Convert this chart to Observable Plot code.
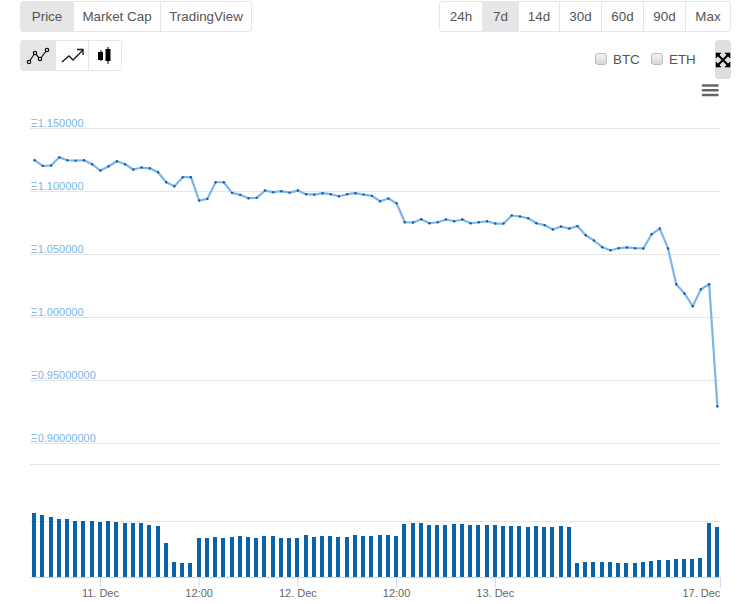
<!DOCTYPE html>
<html><head><meta charset="utf-8">
<script src="https://cdn.jsdelivr.net/npm/d3@7"></script>
<script src="https://cdn.jsdelivr.net/npm/@observablehq/plot@0.6"></script>
<style>
html,body{margin:0;padding:0;background:#fff;width:741px;height:604px;overflow:hidden;font-family:"Liberation Sans",sans-serif;}
#wrap{position:relative;width:741px;height:604px;overflow:hidden;}
.grp{position:absolute;display:flex;box-sizing:border-box;border:1px solid #e6e6e6;border-radius:3px;overflow:hidden;background:#fff;}
.grp div{box-sizing:border-box;border-left:1px solid #e6e6e6;display:flex;align-items:center;justify-content:center;color:#555;font-size:13.4px;height:100%;}
.grp div:first-child{border-left:none;}
.grp div.on{background:#e6e6e6;}
.abs{position:absolute;}
.lbl{position:absolute;font-size:13.4px;color:#555;line-height:16px;}
input.cb{appearance:none;-webkit-appearance:none;position:absolute;margin:0;width:12px;height:12px;box-sizing:border-box;border:1px solid #bbb;border-radius:3px;background:linear-gradient(#f4f4f4,#d8d8d8);}
#price,#volume{position:absolute;left:0;}
#price{top:100px;}#volume{top:460px;}
svg{display:block;}
</style></head><body>
<div id="wrap">
  <div class="grp" style="left:20px;top:1px;width:232px;height:31px;">
    <div class="on" style="width:52px">Price</div><div style="width:87px">Market Cap</div><div style="width:91px">TradingView</div>
  </div>
  <div class="grp" style="left:439px;top:1px;width:292px;height:31px;">
    <div style="width:42px">24h</div><div class="on" style="width:36px">7d</div><div style="width:41px">14d</div><div style="width:42px">30d</div><div style="width:42px">60d</div><div style="width:42px">90d</div><div style="width:45px">Max</div>
  </div>
  <div class="grp" style="left:20px;top:40px;width:102px;height:31px;">
    <div class="on" style="width:34px"><svg width="24" height="20" viewBox="0 0 24 20" fill="none" stroke="#111" stroke-width="1.2"><polyline points="3,16 9,7 14,13 21,4"/><circle cx="3" cy="16" r="1.7" fill="#e6e6e6"/><circle cx="9" cy="7" r="1.7" fill="#e6e6e6"/><circle cx="14" cy="13" r="1.7" fill="#e6e6e6"/><circle cx="21" cy="4" r="1.7" fill="#e6e6e6"/></svg></div>
    <div style="width:34px"><svg width="24" height="20" viewBox="0 0 24 20" fill="none" stroke="#111" stroke-width="1.3"><polyline points="2,16 9,10 13,14 23,4"/><polyline points="17,3.5 23,3.5 23,9"/></svg></div>
    <div style="width:33px"><svg width="20" height="20" viewBox="0 0 20 20" fill="#000" stroke="#000" stroke-width="1"><line x1="6" y1="4" x2="6" y2="15"/><rect x="3.5" y="6.5" width="4" height="7"/><line x1="13" y1="1" x2="13" y2="18"/><rect x="11" y="3.5" width="4" height="11"/></svg></div>
  </div>
  <input class="cb" type="checkbox" style="left:595px;top:53px"><span class="lbl" style="left:613px;top:52px">BTC</span>
  <input class="cb" type="checkbox" style="left:651px;top:53px"><span class="lbl" style="left:669px;top:52px">ETH</span>
  <div class="abs" style="left:715px;top:40px;width:16px;height:39px;background:#dedede;border-radius:4px;"></div>
  <svg class="abs" style="left:715px;top:52px" width="16" height="16" viewBox="0 0 16 16" stroke="#000" stroke-width="2" fill="#000"><line x1="3" y1="3" x2="13" y2="13"/><line x1="13" y1="3" x2="3" y2="13"/><path d="M1 1h5L1 6zM15 1h-5l5 5zM1 15h5L1 10zM15 15h-5l5-5z" stroke-width="0.6"/></svg>
  <svg class="abs" style="left:701px;top:83px" width="18" height="15" viewBox="0 0 18 15" stroke="#666" stroke-width="2.5" stroke-linecap="round"><line x1="2" y1="2.5" x2="16.5" y2="2.5"/><line x1="2" y1="7.2" x2="16.5" y2="7.2"/><line x1="2" y1="12" x2="16.5" y2="12"/></svg>
  <div id="price"></div>
  <div id="volume"></div>
</div>
<script>
const prices = [
 1.1251,1.1206,1.1209,1.1274,1.1251,1.1248,1.1251,1.1219,1.1169,1.1203,1.1243,1.1219,1.1177,1.1193,1.1187,1.1155,1.1076,1.1044,1.1116,1.1116,
 1.0931,1.0944,1.1076,1.1076,1.0992,1.0976,1.0949,1.0952,1.1010,1.0997,1.1005,1.0994,1.1010,1.0981,1.0978,1.0989,1.0981,1.0965,1.0981,1.0989,
 1.0978,1.0968,1.0925,1.0947,1.0909,1.0758,1.0756,1.0782,1.0750,1.0758,1.0780,1.0766,1.0780,1.0750,1.0758,1.0766,1.0748,1.0748,1.0812,1.0804,
 1.0790,1.0750,1.0735,1.0700,1.0724,1.0708,1.0727,1.0655,1.0613,1.0560,1.0536,1.0552,1.0558,1.0552,1.0550,1.0663,1.0708,1.0550,1.0266,1.0192,
 1.0091,1.0226,1.0266,0.9295];
const volumes = [
 64,62,60,58,58,56,56,56,55,56,55,54,54,54,52,51,34,15,14,14,39,39,40,39,40,41,40,39,41,41,39,39,39,42,40,41,41,40,40,42,41,41,
 42,42,41,53,54,54,52,52,52,53,53,52,52,52,52,51,51,51,50,51,50,50,51,50,14,15,15,15,15,14,14,14,15,16,17,17,18,18,18,19,54,50];
const priceTicks = [1.15,1.10,1.05,1.00,0.95,0.90];
const priceTickLabels = ["Ξ1.150000","Ξ1.100000","Ξ1.050000","Ξ1.000000","Ξ0.95000000","Ξ0.90000000"];
const volumeGrid = [56,113];
const timeTicks = [8,20,32,44,56];
const timeTickLabels = ["11. Dec","12:00","12. Dec","12:00","13. Dec"];
const lastTick = [83];
const lastTickLabel = "17. Dec";

const idx = prices.map((_,i)=>i);
const xDomain = [-0.5,83.5];
const font = '"Liberation Sans",sans-serif';

const pricePlot = Plot.plot({
  width:741,height:360,marginLeft:30,marginRight:20,marginTop:0,marginBottom:0,
  style:{fontFamily:font,background:"transparent",overflow:"visible"},
  x:{domain:xDomain,axis:null},
  y:{domain:[0.90,1.15],range:[343,28.4],axis:null},
  marks:[
    Plot.ruleY(priceTicks,{stroke:"#e6e6e6",strokeWidth:1,shapeRendering:"crispEdges",strokeOpacity:1}),
    Plot.text(priceTicks,{y:d=>d,text:(d,i)=>priceTickLabels[i],frameAnchor:"left",textAnchor:"start",lineAnchor:"bottom",dx:0,dy:-2,fill:"#7cb5ec",fontSize:11}),
    Plot.line(idx,{x:i=>i,y:i=>prices[i],stroke:"#7cb5ec",strokeWidth:2.2,curve:"linear"}),
    Plot.dot(idx,{x:i=>i,y:i=>prices[i],r:1.2,fill:"#0a5fa5"})
  ]
});
document.getElementById("price").appendChild(pricePlot);

const volumePlot = Plot.plot({
  width:741,height:144,marginLeft:30,marginRight:20,marginTop:0,marginBottom:0,
  style:{fontFamily:font,background:"transparent",overflow:"visible"},
  x:{domain:xDomain,axis:null},
  y:{domain:[0,113],range:[117,4],axis:null},
  marks:[
    Plot.ruleY(volumeGrid,{stroke:"#e6e6e6",strokeWidth:1,shapeRendering:"crispEdges"}),
    Plot.rectY(idx,{x1:i=>i-0.243,x2:i=>i+0.243,y1:0,y2:i=>volumes[i],fill:"#0a62a8",shapeRendering:"crispEdges"}),
    Plot.ruleY([0],{stroke:"#ccd6eb",strokeWidth:1,shapeRendering:"crispEdges"}),
    Plot.axisX({ticks:timeTicks,tickFormat:d=>timeTickLabels[timeTicks.indexOf(d)],tickSize:10,tickPadding:2,anchor:"bottom",y:0,stroke:"#ccd6eb",fill:"#666",fontSize:11,label:null,tickRotate:0}),
    Plot.axisX({ticks:lastTick,tickFormat:()=>lastTickLabel,tickSize:10,tickPadding:2,anchor:"bottom",y:0,stroke:"#ccd6eb",fill:"#666",fontSize:11,label:null,textAnchor:"end",dx:3})
  ]
});
document.getElementById("volume").appendChild(volumePlot);
</script>
</body></html>
